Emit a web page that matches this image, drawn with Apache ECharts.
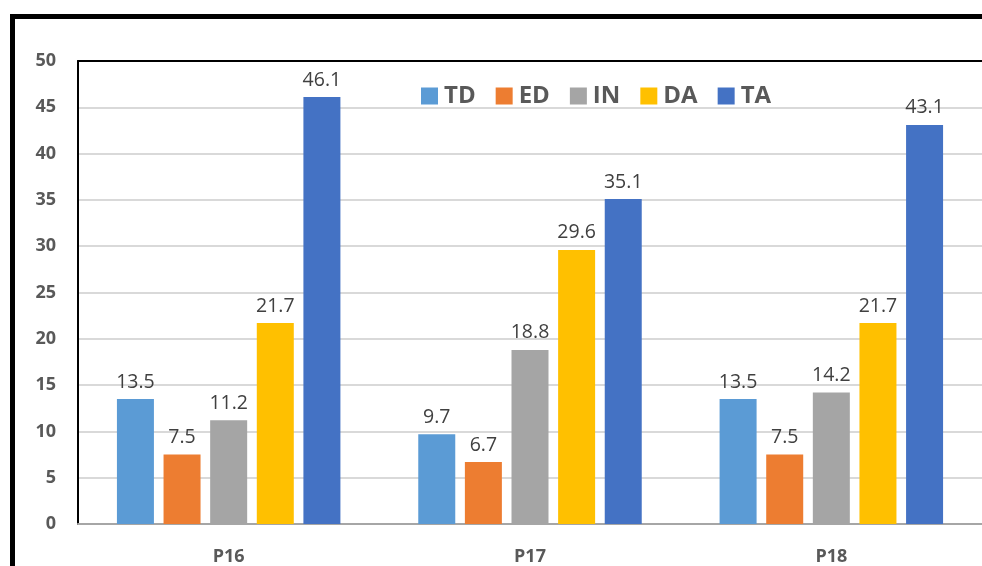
<!DOCTYPE html>
<html>
<head>
<meta charset="utf-8">
<script src="https://cdn.jsdelivr.net/npm/echarts@6/dist/echarts.min.js"></script>
<style>
html, body { margin: 0; padding: 0; background: #fff; overflow: hidden; }
#chart { width: 982px; height: 566px; }
</style>
</head>
<body>
<div id="chart"></div>
<script>
// Groups along the x axis
const categories = ['P16', 'P17', 'P18'];

// Series values per group
const seriesNames = ['TD', 'ED', 'IN', 'DA', 'TA'];
const tdValues = [13.5, 9.7, 13.5];
const edValues = [7.5, 6.7, 7.5];
const inValues = [11.2, 18.8, 14.2];
const daValues = [21.7, 29.6, 21.7];
const taValues = [46.1, 35.1, 43.1];

const seriesColors = ['#5B9BD5', '#ED7D31', '#A5A5A5', '#FFC000', '#4472C4'];
const allValues = [tdValues, edValues, inValues, daValues, taValues];

const chart = echarts.init(document.getElementById('chart'), null, { renderer: 'canvas' });

const series = seriesNames.map((name, i) => ({
  name: name,
  type: 'bar',
  data: allValues[i],
  barWidth: 37,
  barGap: '26%',
  itemStyle: { color: seriesColors[i] },
  label: {
    show: true,
    position: 'top',
    distance: 7,
    color: '#404040',
    fontFamily: 'Open Sans',
    fontSize: 19.5
  }
}));

chart.setOption({
  animation: false,
  backgroundColor: '#fff',
  textStyle: { fontFamily: 'Open Sans' },
  graphic: [
    {
      // outer frame of the figure: left and top edges
      type: 'polyline',
      shape: { points: [[12.5, 600], [12.5, 16.5], [982, 16.5]] },
      style: { fill: 'none', stroke: '#000', lineWidth: 5 },
      z: 10
    }
  ],
  legend: {
    data: seriesNames,
    left: 416,
    top: 79,
    icon: 'rect',
    itemWidth: 17,
    itemHeight: 17,
    itemGap: 20,
    textStyle: {
      color: '#595959',
      fontFamily: 'Open Sans',
      fontWeight: 'bold',
      fontSize: 24,
      padding: [0, 0, 0, 1]
    }
  },
  grid: {
    left: 78,
    top: 61,
    width: 909,
    height: 464,
    show: false,
    containLabel: false
  },
  xAxis: [
    {
      type: 'category',
      data: categories,
      axisTick: { show: false },
      axisLine: { lineStyle: { color: '#a6a6a6', width: 2 } },
      axisLabel: {
        margin: 24,
        color: '#595959',
        fontFamily: 'Open Sans',
        fontWeight: 'bold',
        fontSize: 18
      }
    },
    {
      // top edge of the plot area
      type: 'category',
      data: categories,
      position: 'top',
      axisTick: { show: false },
      axisLabel: { show: false },
      axisLine: { lineStyle: { color: '#000', width: 2 } }
    }
  ],
  yAxis: {
    type: 'value',
    min: 0,
    max: 50,
    interval: 5,
    axisLine: { show: true, lineStyle: { color: '#000', width: 2 } },
    axisTick: { show: false },
    splitLine: { lineStyle: { color: '#d9d9d9', width: 2 } },
    axisLabel: {
      margin: 22,
      color: '#595959',
      fontFamily: 'Open Sans',
      fontWeight: 'bold',
      fontSize: 18
    }
  },
  series: series
});
</script>
</body>
</html>
